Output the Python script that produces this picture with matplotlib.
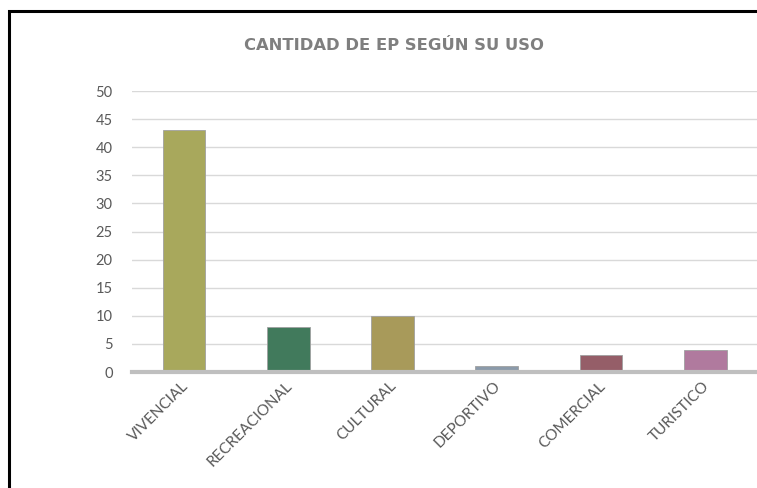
import matplotlib.pyplot as plt
from matplotlib.patches import Rectangle
from matplotlib.transforms import ScaledTranslation

categorias = ['VIVENCIAL', 'RECREACIONAL', 'CULTURAL', 'DEPORTIVO', 'COMERCIAL', 'TURISTICO']
cantidad = [43, 8, 10, 1, 3, 4]
colores = ['#a8a85c', '#417a5c', '#a89a5a', '#8b9aaa', '#955e68', '#b07a9e']
titulo = 'CANTIDAD DE EP SEGÚN SU USO'

plt.rcParams['font.family'] = ['Lato', 'DejaVu Sans']

fig = plt.figure(figsize=(7.57, 4.88), dpi=100)
ax = fig.add_axes([0.1744, 0.2377, 0.826, 0.5758])

x = range(len(categorias))
ax.bar(x, cantidad, width=0.41, color=colores, edgecolor='#a0a0a0',
       linewidth=0.6, zorder=3)

ax.set_xlim(-0.5, len(categorias) - 0.5)
ax.set_ylim(0, 50)
ax.set_yticks(range(0, 51, 5))
ax.grid(axis='y', color='#d9d9d9', linewidth=1, zorder=0)
ax.set_axisbelow(True)
for s in ['top', 'right', 'left']:
    ax.spines[s].set_visible(False)
ax.spines['bottom'].set_color('#bfbfbf')
ax.spines['bottom'].set_linewidth(3)
ax.spines['bottom'].set_zorder(4)
ax.tick_params(axis='y', length=0, colors='#595959', labelsize=10.5, pad=14)
ax.tick_params(axis='x', length=0, colors='#595959', labelsize=11, pad=5)
ax.set_xticks(list(x))
ax.set_xticklabels(categorias, rotation=45, ha='right', rotation_mode='anchor')
desplazar = ScaledTranslation(-3 / 100, 0, fig.dpi_scale_trans)
for lab in ax.get_xticklabels():
    lab.set_transform(lab.get_transform() + desplazar)

fig.text(0.52, 0.906, titulo, ha='center', va='center', fontsize=11.8,
         fontweight='bold', color='#7f7f7f', family='DejaVu Sans')

# marco negro alrededor del grafico
fig.patches.append(Rectangle((9 / 757, -0.1), 1.2, 1.1 - 11 / 488,
                             transform=fig.transFigure, fill=False,
                             edgecolor='black', linewidth=2.2))

fig.savefig('out.png', dpi=100)
